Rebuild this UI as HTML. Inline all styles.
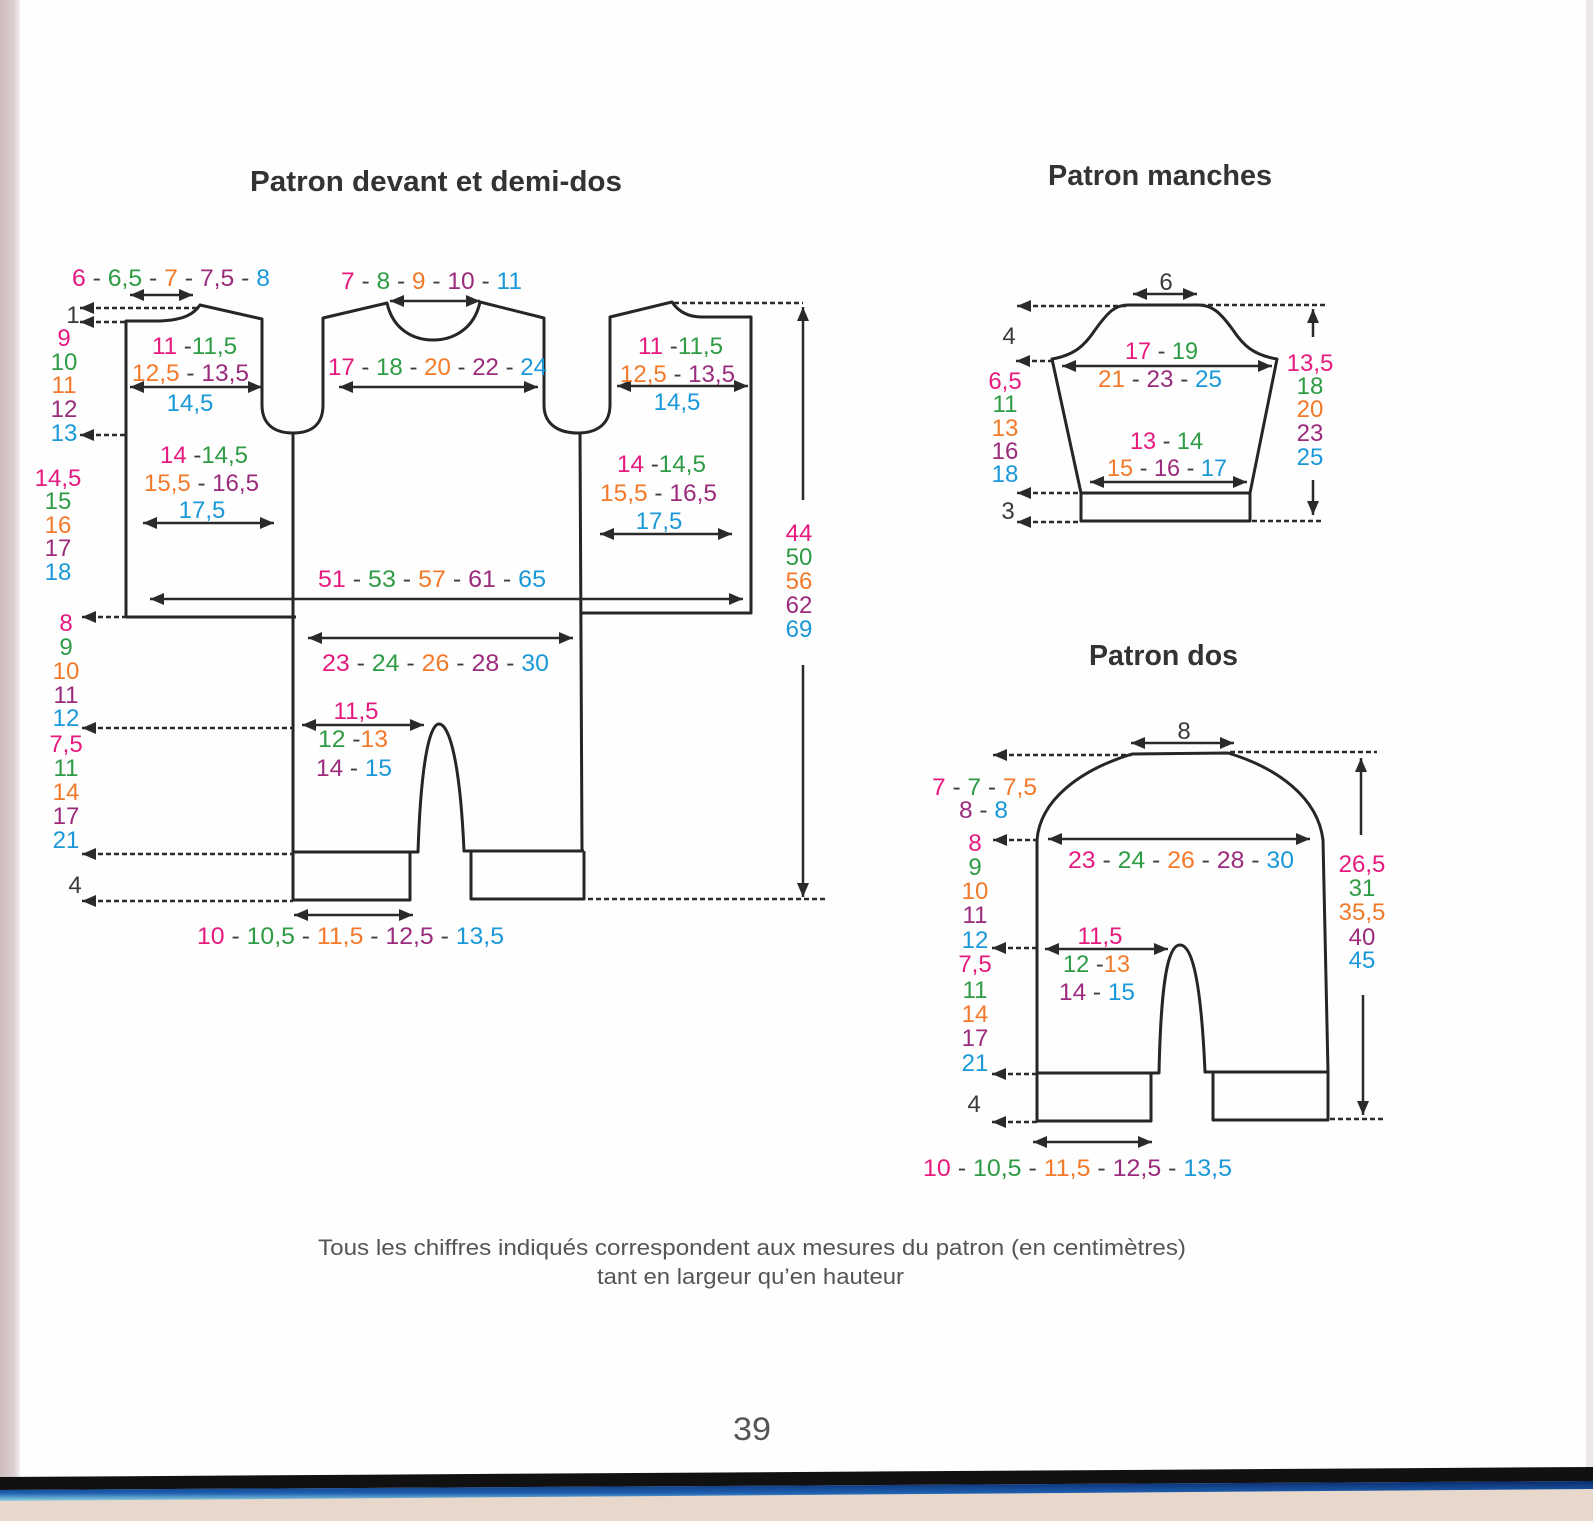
<!DOCTYPE html>
<html>
<head>
<meta charset="utf-8">
<style>
  html,body{margin:0;padding:0;background:#fefefe;}
  svg{display:block;}
  text{font-family:"Liberation Sans",Arial,sans-serif;white-space:pre;}
  .n{font-size:24px;fill:#3e3e3e;}
  .t{font-size:29px;font-weight:bold;fill:#333;}
  .f{font-size:22px;fill:#555;}
  .p{fill:#e6197f;} .g{fill:#2e9b45;} .o{fill:#f27a2a;} .v{fill:#9b2b7c;} .b{fill:#1a98d8;} .k{fill:#3a3a3a;}
  .ol{fill:none;stroke:#262626;stroke-width:3;stroke-linejoin:round;}
  .ar{fill:none;stroke:#2a2a2a;stroke-width:2.5;marker-start:url(#ah);marker-end:url(#ah);}
  .ae{fill:none;stroke:#2a2a2a;stroke-width:2.5;marker-end:url(#ah);}
  .dl{fill:none;stroke:#2a2a2a;stroke-width:2.5;stroke-dasharray:5 3;marker-start:url(#ah);}
  .dp{fill:none;stroke:#2a2a2a;stroke-width:2.5;stroke-dasharray:5 3;}
</style>
</head>
<body>
<svg width="1593" height="1521" viewBox="0 0 1593 1521" xmlns="http://www.w3.org/2000/svg">
  <defs>
    <marker id="ah" markerUnits="userSpaceOnUse" markerWidth="15" markerHeight="13" refX="14" refY="6" orient="auto-start-reverse">
      <path d="M0,0 L14,6 L0,12 z" fill="#2a2a2a"/>
    </marker>
    <linearGradient id="lg" x1="0" x2="1" y1="0" y2="0">
      <stop offset="0" stop-color="#cdbcbd"/>
      <stop offset="0.7" stop-color="#ddd1d2"/>
      <stop offset="1" stop-color="#f4f0f1"/>
    </linearGradient>
    <linearGradient id="bl" x1="0" x2="0" y1="0" y2="1">
      <stop offset="0" stop-color="#0a2a6a"/>
      <stop offset="0.6" stop-color="#1d5fb0"/>
      <stop offset="1" stop-color="#8fd3e0"/>
    </linearGradient>
  </defs>

  <!-- page background -->
  <rect x="0" y="0" width="1593" height="1521" fill="#e8d8cc"/>
  <polygon points="0,0 1593,0 1593,1468 0,1478" fill="#fefefe"/>
  <rect x="0" y="0" width="20" height="1478" fill="url(#lg)"/>
  <rect x="1586" y="0" width="7" height="1468" fill="#ebe7e8"/>
  <polygon points="0,1477 1593,1467 1593,1481 0,1490" fill="#111"/>
  <polygon points="0,1490 1593,1481 1593,1489 0,1501" fill="url(#bl)"/>

  <!-- titles -->
  <text class="t" x="250" y="191" textLength="372" lengthAdjust="spacingAndGlyphs">Patron devant et demi-dos</text>
  <text class="t" x="1048" y="185" textLength="224" lengthAdjust="spacingAndGlyphs">Patron manches</text>
  <text class="t" x="1089" y="665" textLength="149" lengthAdjust="spacingAndGlyphs">Patron dos</text>

  <!-- ============ PIECE 1 : devant et demi-dos ============ -->
  <path class="ol" d="M126,617 L126,321 L160,321 C184,320 194,314 200,305 L262,319 L262,405 C262,424 274,433 293,433 C312,433 323,424 323,405 L323,318 L387,303 C393,330 414,340 433,340 C452,340 474,330 480,302 L544,318 L544,405 C544,424 558,433 578,433 C597,433 610,424 610,405 L610,317 L672,302 C678,311 688,317 702,317 L751,317 L751,613 L580,613"/>
  <path class="ol" d="M126,617 L296,617"/>
  <path class="ol" d="M293,433 L293,900 L410,900 L410,852"/>
  <path class="ol" d="M580,433 L582,851"/>
  <path class="ol" d="M293,852 L418,852 C421,760 430,724 439,724 C449,724 460,760 464,851 L584,851"/>
  <path class="ol" d="M471,851 L471,899 L584,899 L584,851"/>

  <!-- dotted arrows left -->
  <line class="dl" x1="80" y1="308" x2="198" y2="308"/>
  <line class="dl" x1="80" y1="322" x2="126" y2="322"/>
  <line class="dl" x1="80" y1="435" x2="126" y2="435"/>
  <line class="dl" x1="82" y1="617" x2="126" y2="617"/>
  <line class="dl" x1="82" y1="728" x2="293" y2="728"/>
  <line class="dl" x1="82" y1="854" x2="293" y2="854"/>
  <line class="dl" x1="82" y1="901" x2="293" y2="901"/>
  <line class="dp" x1="674" y1="303" x2="803" y2="303"/>
  <line class="dp" x1="588" y1="899" x2="827" y2="899"/>

  <!-- solid arrows -->
  <line class="ar" x1="130" y1="295" x2="193" y2="295"/>
  <line class="ar" x1="390" y1="301" x2="480" y2="301"/>
  <line class="ar" x1="130" y1="387" x2="262" y2="387"/>
  <line class="ar" x1="143" y1="523" x2="274" y2="523"/>
  <line class="ar" x1="339" y1="387" x2="538" y2="387"/>
  <line class="ar" x1="617" y1="386" x2="748" y2="386"/>
  <line class="ar" x1="600" y1="534" x2="732" y2="534"/>
  <line class="ar" x1="150" y1="599" x2="743" y2="599"/>
  <line class="ar" x1="308" y1="638" x2="573" y2="638"/>
  <line class="ar" x1="302" y1="725" x2="424" y2="725"/>
  <line class="ar" x1="294" y1="915" x2="413" y2="915"/>
  <line class="ae" x1="803" y1="500" x2="803" y2="307"/>
  <line class="ae" x1="803" y1="665" x2="803" y2="897"/>

  <!-- piece 1 labels -->
  <text class="n" x="72" y="286" textLength="198" lengthAdjust="spacingAndGlyphs"><tspan class="p">6</tspan> - <tspan class="g">6,5</tspan> - <tspan class="o">7</tspan> - <tspan class="v">7,5</tspan> - <tspan class="b">8</tspan></text>
  <text class="n" x="341" y="289" textLength="181" lengthAdjust="spacingAndGlyphs"><tspan class="p">7</tspan> - <tspan class="g">8</tspan> - <tspan class="o">9</tspan> - <tspan class="v">10</tspan> - <tspan class="b">11</tspan></text>

  <text class="n" x="152" y="354" textLength="85" lengthAdjust="spacingAndGlyphs"><tspan class="p">11</tspan> -<tspan class="g">11,5</tspan></text>
  <text class="n" x="132" y="381" textLength="117" lengthAdjust="spacingAndGlyphs"><tspan class="o">12,5</tspan> - <tspan class="v">13,5</tspan></text>
  <text class="n b" x="190" y="411" text-anchor="middle">14,5</text>
  <text class="n" x="160" y="463" textLength="88" lengthAdjust="spacingAndGlyphs"><tspan class="p">14</tspan> -<tspan class="g">14,5</tspan></text>
  <text class="n" x="144" y="491" textLength="115" lengthAdjust="spacingAndGlyphs"><tspan class="o">15,5</tspan> - <tspan class="v">16,5</tspan></text>
  <text class="n b" x="202" y="518" text-anchor="middle">17,5</text>

  <text class="n" x="328" y="375" textLength="219" lengthAdjust="spacingAndGlyphs"><tspan class="p">17</tspan> - <tspan class="g">18</tspan> - <tspan class="o">20</tspan> - <tspan class="v">22</tspan> - <tspan class="b">24</tspan></text>

  <text class="n" x="638" y="354" textLength="85" lengthAdjust="spacingAndGlyphs"><tspan class="p">11</tspan> -<tspan class="g">11,5</tspan></text>
  <text class="n" x="620" y="382" textLength="115" lengthAdjust="spacingAndGlyphs"><tspan class="o">12,5</tspan> - <tspan class="v">13,5</tspan></text>
  <text class="n b" x="677" y="410" text-anchor="middle">14,5</text>
  <text class="n" x="617" y="472" textLength="89" lengthAdjust="spacingAndGlyphs"><tspan class="p">14</tspan> -<tspan class="g">14,5</tspan></text>
  <text class="n" x="600" y="501" textLength="117" lengthAdjust="spacingAndGlyphs"><tspan class="o">15,5</tspan> - <tspan class="v">16,5</tspan></text>
  <text class="n b" x="659" y="529" text-anchor="middle">17,5</text>

  <text class="n" x="318" y="587" textLength="228" lengthAdjust="spacingAndGlyphs"><tspan class="p">51</tspan> - <tspan class="g">53</tspan> - <tspan class="o">57</tspan> - <tspan class="v">61</tspan> - <tspan class="b">65</tspan></text>
  <text class="n" x="322" y="671" textLength="227" lengthAdjust="spacingAndGlyphs"><tspan class="p">23</tspan> - <tspan class="g">24</tspan> - <tspan class="o">26</tspan> - <tspan class="v">28</tspan> - <tspan class="b">30</tspan></text>
  <text class="n p" x="356" y="719" text-anchor="middle">11,5</text>
  <text class="n" x="318" y="747" textLength="70" lengthAdjust="spacingAndGlyphs"><tspan class="g">12</tspan> -<tspan class="o">13</tspan></text>
  <text class="n" x="316" y="776" textLength="76" lengthAdjust="spacingAndGlyphs"><tspan class="v">14</tspan> - <tspan class="b">15</tspan></text>
  <text class="n" x="197" y="944" textLength="307" lengthAdjust="spacingAndGlyphs"><tspan class="p">10</tspan> - <tspan class="g">10,5</tspan> - <tspan class="o">11,5</tspan> - <tspan class="v">12,5</tspan> - <tspan class="b">13,5</tspan></text>

  <!-- left stacks -->
  <g class="n" text-anchor="middle">
    <text class="n k" x="73" y="323">1</text>
    <text class="n p" x="64" y="346">9</text>
    <text class="n g" x="64" y="370">10</text>
    <text class="n o" x="64" y="393">11</text>
    <text class="n v" x="64" y="417">12</text>
    <text class="n b" x="64" y="441">13</text>

    <text class="n p" x="58" y="486">14,5</text>
    <text class="n g" x="58" y="509">15</text>
    <text class="n o" x="58" y="533">16</text>
    <text class="n v" x="58" y="556">17</text>
    <text class="n b" x="58" y="580">18</text>

    <text class="n p" x="66" y="631">8</text>
    <text class="n g" x="66" y="655">9</text>
    <text class="n o" x="66" y="679">10</text>
    <text class="n v" x="66" y="703">11</text>
    <text class="n b" x="66" y="726">12</text>
    <text class="n p" x="66" y="752">7,5</text>
    <text class="n g" x="66" y="776">11</text>
    <text class="n o" x="66" y="800">14</text>
    <text class="n v" x="66" y="824">17</text>
    <text class="n b" x="66" y="848">21</text>
    <text class="n k" x="75" y="893">4</text>

    <text class="n p" x="799" y="541">44</text>
    <text class="n g" x="799" y="565">50</text>
    <text class="n o" x="799" y="589">56</text>
    <text class="n v" x="799" y="613">62</text>
    <text class="n b" x="799" y="637">69</text>
  </g>

  <!-- ============ SLEEVE ============ -->
  <path class="ol" d="M1081,493 L1052,359 C1075,355 1085,345 1095,330 C1108,312 1115,305 1128,305 L1198,305 C1212,305 1220,312 1233,330 C1243,345 1253,355 1277,359 L1250,493 Z"/>
  <path class="ol" d="M1081,493 L1081,521 L1250,521 L1250,493"/>
  <line class="dl" x1="1017" y1="306" x2="1128" y2="306"/>
  <line class="dl" x1="1016" y1="361" x2="1052" y2="361"/>
  <line class="dl" x1="1017" y1="493" x2="1081" y2="493"/>
  <line class="dl" x1="1017" y1="522" x2="1081" y2="522"/>
  <line class="dp" x1="1200" y1="305" x2="1325" y2="305"/>
  <line class="dp" x1="1252" y1="521" x2="1322" y2="521"/>
  <line class="ar" x1="1133" y1="294" x2="1197" y2="294"/>
  <line class="ar" x1="1062" y1="366" x2="1272" y2="366"/>
  <line class="ar" x1="1090" y1="482" x2="1247" y2="482"/>
  <line class="ae" x1="1313" y1="337" x2="1313" y2="309"/>
  <line class="ae" x1="1313" y1="480" x2="1313" y2="515"/>

  <text class="n k" x="1166" y="290" text-anchor="middle">6</text>
  <text class="n k" x="1009" y="344" text-anchor="middle">4</text>
  <text class="n k" x="1008" y="519" text-anchor="middle">3</text>
  <text class="n" x="1125" y="359" textLength="73" lengthAdjust="spacingAndGlyphs"><tspan class="p">17</tspan> - <tspan class="g">19</tspan></text>
  <text class="n" x="1098" y="387" textLength="124" lengthAdjust="spacingAndGlyphs"><tspan class="o">21</tspan> - <tspan class="v">23</tspan> - <tspan class="b">25</tspan></text>
  <text class="n" x="1130" y="449" textLength="73" lengthAdjust="spacingAndGlyphs"><tspan class="p">13</tspan> - <tspan class="g">14</tspan></text>
  <text class="n" x="1107" y="476" textLength="120" lengthAdjust="spacingAndGlyphs"><tspan class="o">15</tspan> - <tspan class="v">16</tspan> - <tspan class="b">17</tspan></text>
  <g text-anchor="middle">
    <text class="n p" x="1005" y="389">6,5</text>
    <text class="n g" x="1005" y="412">11</text>
    <text class="n o" x="1005" y="436">13</text>
    <text class="n v" x="1005" y="459">16</text>
    <text class="n b" x="1005" y="482">18</text>
    <text class="n p" x="1310" y="371">13,5</text>
    <text class="n g" x="1310" y="394">18</text>
    <text class="n o" x="1310" y="417">20</text>
    <text class="n v" x="1310" y="441">23</text>
    <text class="n b" x="1310" y="465">25</text>
  </g>

  <!-- ============ DOS ============ -->
  <path class="ol" d="M1037,1121 L1037,840 C1040,800 1080,770 1132,754 L1228,753 C1278,768 1318,798 1323,840 L1328,1072 L1205,1072 C1201,980 1192,945 1180,945 C1168,945 1161,980 1159,1073 L1037,1073"/>
  <path class="ol" d="M1037,1121 L1151,1121 L1151,1073"/>
  <path class="ol" d="M1213,1072 L1213,1120 L1328,1120 L1328,1072"/>
  <line class="dl" x1="993" y1="755" x2="1132" y2="755"/>
  <line class="dl" x1="993" y1="840" x2="1037" y2="840"/>
  <line class="dl" x1="992" y1="948" x2="1037" y2="948"/>
  <line class="dl" x1="992" y1="1074" x2="1037" y2="1074"/>
  <line class="dl" x1="992" y1="1122" x2="1037" y2="1122"/>
  <line class="dp" x1="1230" y1="752" x2="1377" y2="752"/>
  <line class="dp" x1="1330" y1="1119" x2="1383" y2="1119"/>
  <line class="ar" x1="1131" y1="743" x2="1234" y2="743"/>
  <line class="ar" x1="1048" y1="839" x2="1310" y2="839"/>
  <line class="ar" x1="1045" y1="949" x2="1168" y2="949"/>
  <line class="ar" x1="1033" y1="1142" x2="1152" y2="1142"/>
  <line class="ae" x1="1361" y1="835" x2="1361" y2="758"/>
  <line class="ae" x1="1363" y1="995" x2="1363" y2="1115"/>

  <text class="n k" x="1184" y="739" text-anchor="middle">8</text>
  <text class="n" x="932" y="795" textLength="105" lengthAdjust="spacingAndGlyphs"><tspan class="p">7</tspan> - <tspan class="g">7</tspan> - <tspan class="o">7,5</tspan></text>
  <text class="n" x="959" y="818" textLength="49" lengthAdjust="spacingAndGlyphs"><tspan class="v">8</tspan> - <tspan class="b">8</tspan></text>
  <text class="n" x="1068" y="868" textLength="226" lengthAdjust="spacingAndGlyphs"><tspan class="p">23</tspan> - <tspan class="g">24</tspan> - <tspan class="o">26</tspan> - <tspan class="v">28</tspan> - <tspan class="b">30</tspan></text>
  <text class="n p" x="1100" y="944" text-anchor="middle">11,5</text>
  <text class="n" x="1063" y="972" textLength="67" lengthAdjust="spacingAndGlyphs"><tspan class="g">12</tspan> -<tspan class="o">13</tspan></text>
  <text class="n" x="1059" y="1000" textLength="76" lengthAdjust="spacingAndGlyphs"><tspan class="v">14</tspan> - <tspan class="b">15</tspan></text>
  <text class="n" x="923" y="1176" textLength="309" lengthAdjust="spacingAndGlyphs"><tspan class="p">10</tspan> - <tspan class="g">10,5</tspan> - <tspan class="o">11,5</tspan> - <tspan class="v">12,5</tspan> - <tspan class="b">13,5</tspan></text>
  <g text-anchor="middle">
    <text class="n p" x="975" y="851">8</text>
    <text class="n g" x="975" y="875">9</text>
    <text class="n o" x="975" y="899">10</text>
    <text class="n v" x="975" y="923">11</text>
    <text class="n b" x="975" y="948">12</text>
    <text class="n p" x="975" y="972">7,5</text>
    <text class="n g" x="975" y="998">11</text>
    <text class="n o" x="975" y="1022">14</text>
    <text class="n v" x="975" y="1046">17</text>
    <text class="n b" x="975" y="1071">21</text>
    <text class="n k" x="974" y="1112">4</text>
    <text class="n p" x="1362" y="872">26,5</text>
    <text class="n g" x="1362" y="896">31</text>
    <text class="n o" x="1362" y="920">35,5</text>
    <text class="n v" x="1362" y="945">40</text>
    <text class="n b" x="1362" y="968">45</text>
  </g>

  <!-- footer -->
  <text class="f" x="318" y="1255" textLength="868" lengthAdjust="spacingAndGlyphs">Tous les chiffres indiqués correspondent aux mesures du patron (en centimètres)</text>
  <text class="f" x="597" y="1284" textLength="307" lengthAdjust="spacingAndGlyphs">tant en largeur qu’en hauteur</text>
  <text x="733" y="1440" textLength="38" lengthAdjust="spacingAndGlyphs" style="font-size:32px;fill:#555;">39</text>
</svg>
</body>
</html>
